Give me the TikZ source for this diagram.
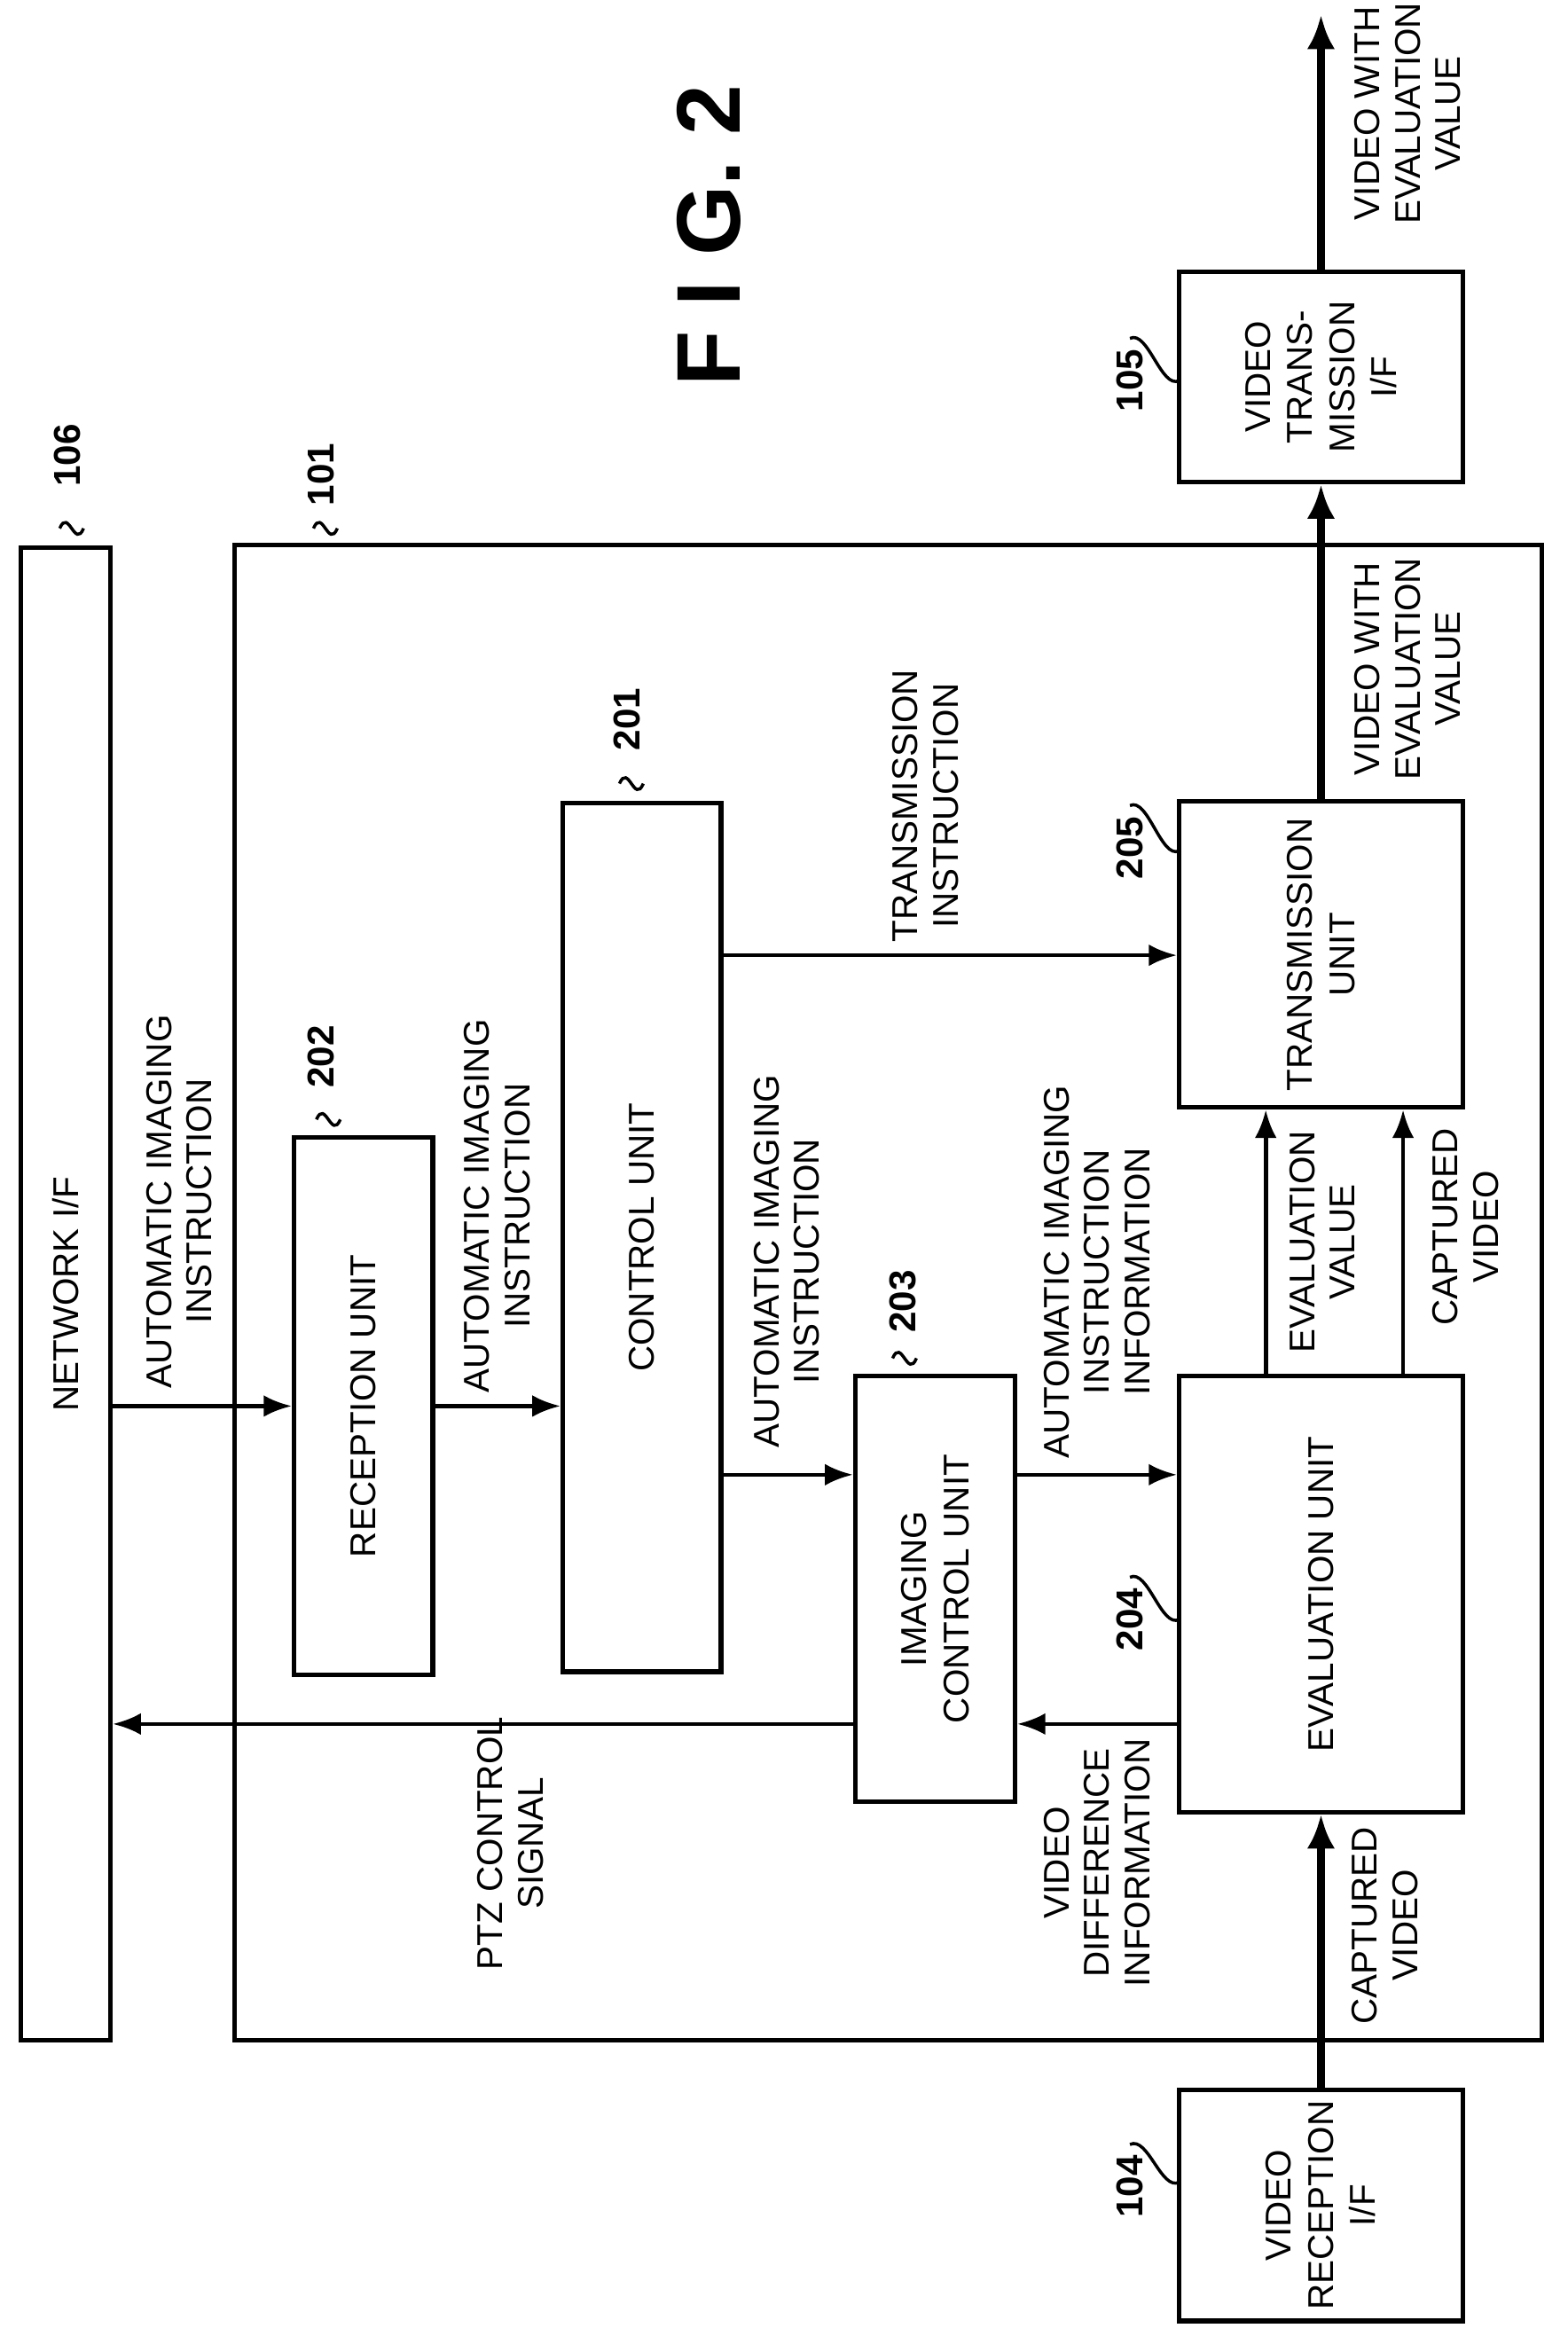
\documentclass[tikz,border=0pt]{standalone}
\usepackage{fontspec}
\setmainfont{Liberation Sans}
\usetikzlibrary{arrows.meta,fit,calc}
\tikzset{
    unitbox/.style={draw=black, line width=1.5pt, inner sep=0pt},
    boxtext/.style={rotate=90, align=center, font=\fontsize{11.5}{13.5}\selectfont},
    sigtext/.style={rotate=90, align=center, font=\fontsize{11.5}{13}\selectfont},
    refnum/.style={rotate=90, font=\bfseries\fontsize{12}{14}\selectfont},
    sig/.style={line width=1.3pt, -{Latex[length=9pt,width=7pt]}},
    bigsig/.style={line width=2.6pt, -{Latex[length=11pt,width=9pt]}}
}
\newcommand{\squig}[1]{\draw[line width=1pt] #1 .. controls +(6,-14) and +(-6,14) .. +(16,0);}
\begin{document}
\begin{tikzpicture}[x={(0.01683cm,0)}, y={(0,-0.01683cm)}]
    \useasboundingbox (0,0) rectangle (1050,1570.4);

    % boxes
    \node[unitbox, fit={(14,367) (74,1367)}] (netif) {};
    \node[unitbox, fit={(157,365) (1033,1367)}] (cam) {};
    \node[unitbox, fit={(197,762) (290,1122)}] (recv) {};
    \node[unitbox, fit={(377,538) (483,1120)}] (ctrl) {};
    \node[unitbox, fit={(573,922) (680,1207)}] (imgc) {};
    \node[unitbox, fit={(790,922) (980,1214)}] (eval) {};
    \node[unitbox, fit={(790,537) (980,742)}] (trans) {};
    \node[unitbox, fit={(790,182) (980,323)}] (vtif) {};
    \node[unitbox, fit={(790,1400) (980,1555)}] (vrif) {};

    \node[boxtext] at (netif.center) {NETWORK I/F};
    \node[boxtext] at (recv.center) {RECEPTION UNIT};
    \node[boxtext] at (ctrl.center) {CONTROL UNIT};
    \node[boxtext] at (imgc.center) {IMAGING\\CONTROL UNIT};
    \node[boxtext] at (eval.center) {EVALUATION UNIT};
    \node[boxtext] at (trans.center) {TRANSMISSION\\UNIT};
    \node[boxtext] at (vtif.center) {VIDEO\\TRANS-\\MISSION\\I/F};
    \node[boxtext] at (vrif.center) {VIDEO\\RECEPTION\\I/F};

    \node[rotate=90, font=\bfseries\fontsize{29}{34}\selectfont] (fig) at (475,158) {F I G. 2};

    % reference numbers
    \node[refnum] (n106) at (45,305) {106};
    \node[refnum] (n101) at (215,318) {101};
    \node[refnum] (n202) at (215,708) {202};
    \node[refnum] (n201) at (420,482) {201};
    \node[refnum] (n203) at (605,872) {203};
    \node[refnum] (n204) at (757,1085) {204};
    \node[refnum] (n205) at (757,568) {205};
    \node[refnum] (n105) at (757,255) {105};
    \node[refnum] (n104) at (757,1465) {104};
    \squig{(40,354)}
    \squig{(210,354)}
    \squig{(212,750)}
    \squig{(415,525)}
    \squig{(598,910)}
    \draw[line width=1pt] (n204.east) .. controls +(12,-6) and +(-12,6) .. (790,1085);
    \draw[line width=1pt] (n205.east) .. controls +(12,-6) and +(-12,6) .. (790,570);
    \draw[line width=1pt] (n105.east) .. controls +(12,-6) and +(-12,6) .. (790,255);
    \draw[line width=1pt] (n104.east) .. controls +(12,-6) and +(-12,6) .. (790,1462);

    % connector points
    \coordinate (c1) at (483,988);
    \coordinate (c2) at (483,640);
    \coordinate (c3) at (790,1155);
    \coordinate (c4) at (573,1155);
    \coordinate (out) at (885,10);

    % signals
    \draw[sig] (recv.west -| netif.east) -- (recv.west);
    \draw[sig] (recv.east) -- (recv.east -| ctrl.west);
    \draw[sig] (c1) -- (c1 -| imgc.west);
    \draw[sig] (c1 -| imgc.east) -- (c1 -| eval.west);
    \draw[sig] (c2) -- (c2 -| trans.west);
    \draw[sig] (c3) -- (c3 -| imgc.east);
    \draw[sig] (c4) -- (c4 -| netif.east);
    \draw[sig] (eval.north -| 848,0) -- (trans.south -| 848,0);
    \draw[sig] (eval.north -| 940,0) -- (trans.south -| 940,0);
    \draw[bigsig] (trans.north -| out) -- (vtif.south -| out);
    \draw[bigsig] (vtif.north -| out) -- (out);
    \draw[bigsig] (vrif.north -| out) -- (eval.south -| out);

    % signal labels
    \node[sigtext] at (120,805) {AUTOMATIC IMAGING\\INSTRUCTION};
    \node[sigtext] at (333,808) {AUTOMATIC IMAGING\\INSTRUCTION};
    \node[sigtext] at (527,845) {AUTOMATIC IMAGING\\INSTRUCTION};
    \node[sigtext] at (735,852) {AUTOMATIC IMAGING\\INSTRUCTION\\INFORMATION};
    \node[sigtext] at (620,540) {TRANSMISSION\\INSTRUCTION};
    \node[sigtext] at (886,832) {EVALUATION\\VALUE};
    \node[sigtext] at (982,822) {CAPTURED\\VIDEO};
    \node[sigtext] at (943,448) {VIDEO WITH\\EVALUATION\\VALUE};
    \node[sigtext] at (943,76) {VIDEO WITH\\EVALUATION\\VALUE};
    \node[sigtext] at (928,1290) {CAPTURED\\VIDEO};
    \node[sigtext] at (735,1248) {VIDEO\\DIFFERENCE\\INFORMATION};
    \node[sigtext] at (342,1235) {PTZ CONTROL\\SIGNAL};
\end{tikzpicture}
\end{document}
